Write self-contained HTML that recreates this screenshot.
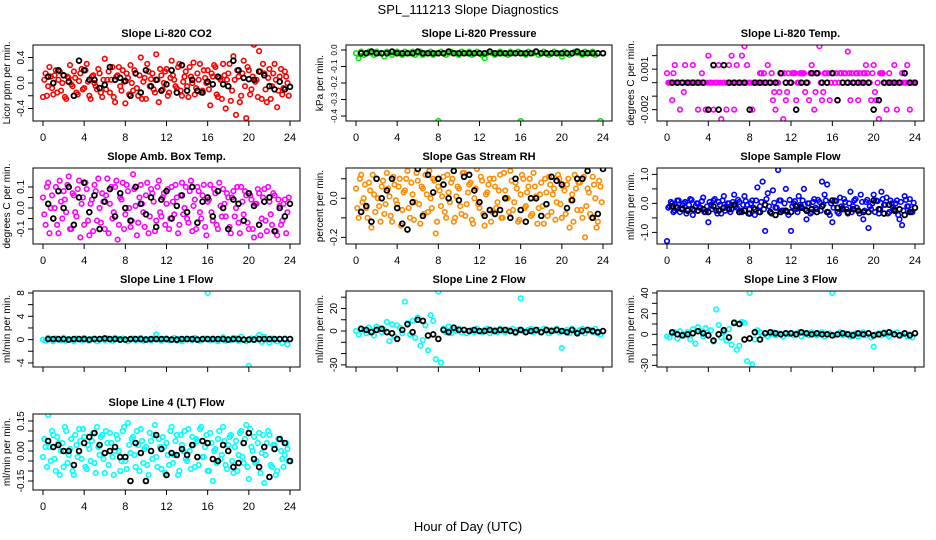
<!DOCTYPE html>
<html><head><meta charset="utf-8"><style>
html,body{margin:0;padding:0;background:#fff;}
svg{display:block;font-family:"Liberation Sans",Arial,sans-serif;}
</style></head><body>
<svg id="chart" width="936" height="540" viewBox="0 0 936 540" xmlns="http://www.w3.org/2000/svg">
<rect width="936" height="540" fill="#fff"/>
<text x="468" y="14" text-anchor="middle" font-size="13">SPL_111213  Slope Diagnostics</text>
<text x="468" y="531" text-anchor="middle" font-size="13">Hour of Day (UTC)</text>
</svg>
<script>
const hours=[0,0.25,0.5,0.75,1,1.25,1.5,1.75,2,2.25,2.5,2.75,3,3.25,3.5,3.75,4,4.25,4.5,4.75,5,5.25,5.5,5.75,6,6.25,6.5,6.75,7,7.25,7.5,7.75,8,8.25,8.5,8.75,9,9.25,9.5,9.75,10,10.25,10.5,10.75,11,11.25,11.5,11.75,12,12.25,12.5,12.75,13,13.25,13.5,13.75,14,14.25,14.5,14.75,15,15.25,15.5,15.75,16,16.25,16.5,16.75,17,17.25,17.5,17.75,18,18.25,18.5,18.75,19,19.25,19.5,19.75,20,20.25,20.5,20.75,21,21.25,21.5,21.75,22,22.25,22.5,22.75,23,23.25,23.5,23.75];
const hours2=[0.125,0.375,0.625,0.875,1.125,1.375,1.625,1.875,2.125,2.375,2.625,2.875,3.125,3.375,3.625,3.875,4.125,4.375,4.625,4.875,5.125,5.375,5.625,5.875,6.125,6.375,6.625,6.875,7.125,7.375,7.625,7.875,8.125,8.375,8.625,8.875,9.125,9.375,9.625,9.875,10.125,10.375,10.625,10.875,11.125,11.375,11.625,11.875,12.125,12.375,12.625,12.875,13.125,13.375,13.625,13.875,14.125,14.375,14.625,14.875,15.125,15.375,15.625,15.875,16.125,16.375,16.625,16.875,17.125,17.375,17.625,17.875,18.125,18.375,18.625,18.875,19.125,19.375,19.625,19.875,20.125,20.375,20.625,20.875,21.125,21.375,21.625,21.875,22.125,22.375,22.625,22.875,23.125,23.375,23.625,23.875];
const hoursB=[0.5,1,1.5,2,2.5,3,3.5,4,4.5,5,5.5,6,6.5,7,7.5,8,8.5,9,9.5,10,10.5,11,11.5,12,12.5,13,13.5,14,14.5,15,15.5,16,16.5,17,17.5,18,18.5,19,19.5,20,20.5,21,21.5,22,22.5,23,23.5,24];
const xTicks=[0,4,8,12,16,20,24];

const co2Vals=[-0.22,0.15,-0.05,0.1,-0.18,0.2,0.05,-0.12,0.12,-0.25,0.08,-0.02,0.18,-0.15,0.03,0.22,-0.08,0.3,-0.2,0.1,0.0,-0.1,0.15,-0.22,
0.38,0.05,-0.15,0.25,-0.3,0.12,-0.05,0.2,-0.32,0.08,0.28,-0.12,0.15,-0.2,0.4,0.02,-0.25,0.18,0.06,-0.1,0.45,-0.3,0.12,0.0,
0.22,-0.15,0.35,0.05,-0.08,0.3,-0.2,0.1,-0.05,0.25,0.0,-0.18,0.15,0.3,-0.12,0.08,0.2,-0.35,0.1,0.25,-0.22,0.05,0.3,-0.4,
0.15,-0.28,0.42,-0.5,0.1,-0.2,0.35,-0.55,0.2,-0.1,0.6,0.05,0.5,-0.25,0.15,-0.3,0.22,-0.05,0.3,-0.38,0.1,-0.18,0.18,0.0];
const co2Vals2=[0.05,-0.2,0.25,-0.08,0.12,-0.15,0.18,0.0,-0.22,0.1,0.28,-0.05,0.08,-0.18,0.15,-0.1,0.2,0.02,-0.25,0.12,-0.05,0.22,-0.15,0.05,
-0.1,0.18,0.05,-0.22,0.1,0.25,-0.12,0.02,0.15,-0.18,0.0,0.2,-0.08,0.12,-0.25,0.08,0.3,-0.05,0.15,-0.15,0.05,0.22,-0.1,0.18,
-0.2,0.08,0.12,-0.05,0.25,-0.12,0.02,0.18,-0.22,0.1,0.32,-0.08,0.05,-0.15,0.2,0.0,-0.1,0.15,0.28,-0.18,0.08,-0.25,0.12,0.05,
0.3,-0.12,0.05,0.2,-0.3,0.15,-0.05,0.25,-0.18,0.1,0.02,-0.22,0.18,0.3,-0.1,0.08,-0.25,0.15,0.05,-0.12,0.22,-0.08,0.1,-0.2];
const co2Black=[0.1,0.0,0.2,0.12,0.02,-0.2,0.35,0.2,0.05,0.05,-0.08,-0.03,0.25,0.05,0.08,0.03,-0.2,0.15,-0.15,0.2,-0.05,0.05,-0.12,-0.02,0.2,-0.15,0.28,-0.12,0.05,-0.12,-0.15,0.02,-0.02,0.1,-0.02,-0.05,0.35,0.2,0.08,0.06,0.05,0.18,0.12,-0.05,-0.1,0.02,-0.1,-0.06];

const presVals=[-0.02,-0.05,-0.01,-0.03,-0.02,-0.01,-0.02,-0.03,-0.01,-0.02,-0.02,-0.04,-0.01,-0.02,-0.03,-0.02,-0.01,-0.02,-0.03,-0.01,-0.02,-0.02,-0.01,-0.03,
-0.02,-0.01,-0.03,-0.02,-0.02,-0.01,-0.03,-0.02,-0.43,-0.01,-0.02,-0.03,-0.02,-0.01,-0.02,-0.02,-0.03,-0.01,-0.02,-0.02,-0.01,-0.03,-0.02,-0.01,
-0.02,-0.03,-0.05,-0.02,-0.01,-0.02,-0.03,-0.02,-0.01,-0.02,-0.02,-0.03,-0.01,-0.02,-0.02,-0.01,-0.43,-0.02,-0.03,-0.01,-0.02,-0.02,-0.01,-0.03,
-0.02,-0.01,-0.02,-0.03,-0.02,-0.01,-0.02,-0.02,-0.04,-0.01,-0.02,-0.03,-0.02,-0.01,-0.02,-0.02,-0.03,-0.01,-0.02,-0.02,-0.01,-0.03,-0.02,-0.43];
const presBlack=[-0.02,-0.02,-0.01,-0.02,-0.02,-0.02,-0.01,-0.02,-0.02,-0.02,-0.02,-0.01,-0.02,-0.02,-0.02,-0.02,-0.02,-0.01,-0.02,-0.02,-0.02,-0.02,-0.02,-0.02,-0.02,-0.01,-0.02,-0.02,-0.02,-0.02,-0.02,-0.02,-0.02,-0.02,-0.01,-0.02,-0.02,-0.02,-0.02,-0.02,-0.02,-0.02,-0.01,-0.02,-0.02,-0.02,-0.02,-0.02];

const tempVals=[0.0007,0,-0.0013,0.0013,0,-0.002,0,0.0013,0,0,0.0013,0,-0.002,0,0,-0.002,0.002,0,-0.002,0,0.0013,-0.0027,0,-0.002,
0.0013,0.002,-0.002,0.0013,0,0.002,0.0027,0.0013,0,-0.002,0,0,0.0007,0,0,0.0013,0,-0.0013,-0.002,0,0.0007,-0.0027,-0.0013,0.0007,
0,0.0007,-0.0013,0,0.0007,0.0007,0,-0.0013,0.0013,-0.002,0.0007,0.0027,-0.0013,0.0007,0,-0.0013,0.0007,0,-0.0013,0.0007,0,0.0007,0.0023,-0.0013,
0,0.0007,-0.0013,0,0.0007,0.0013,0,-0.0013,0.0013,-0.0013,-0.0027,0.0007,0,-0.002,0.0007,0,0.0013,-0.002,0,0.0007,0,0.0013,-0.002,0];
const tempVals2=[0,0,0.0007,0,0,0,-0.0007,0,0,0,0,0,0,0.0007,0,0,0,0,0,0,0,0,0,0,
0,0,0,0,0,0,0,0,0,0,0,0,0.0007,0.0007,0,0,0.0007,-0.0007,0,-0.0007,0.0007,0.0007,-0.0007,0,
0.0007,0.0007,0,0.0007,0.0007,-0.0007,0,0.0007,0.0007,-0.0007,0.0007,0,-0.0007,0.0007,0.0007,0,0.0007,0.0007,0,0.0007,0.0007,0,0.0007,0.0007,
0,0.0007,0.0007,0,0.0007,0.0007,0,0.0007,-0.0007,0,0.0007,0.0007,0,0,0,0,0,0,0,0,0,0,0,0];
const tempBlack=[0,0,0,0,0,0,0,-0.002,0.0013,-0.002,0.0013,0,0,0,0,-0.002,0,0,0,0,0,0.0007,0,0,-0.002,0,0,0.0007,0.0007,0,0,0.0007,-0.0013,0,0,0,0,0,0,-0.002,-0.0013,0,0,0,0,0.0007,0,0];

const ambVals=[0.05,-0.08,0.12,0.0,-0.05,0.1,-0.12,0.03,0.08,-0.02,0.15,-0.1,0.06,-0.04,0.13,0.02,-0.08,0.09,-0.13,0.04,0.11,-0.06,0.0,0.07,
-0.1,0.14,0.02,-0.05,0.1,-0.15,0.05,0.12,-0.03,0.08,-0.09,0.16,0.01,-0.07,0.11,-0.02,0.06,-0.12,0.09,0.03,-0.06,0.13,-0.04,0.07,
0.02,-0.1,0.1,-0.03,0.05,-0.08,0.12,0.0,-0.05,0.08,-0.11,0.04,0.1,-0.02,0.06,-0.09,0.03,0.11,-0.06,0.07,-0.1,0.01,0.09,-0.04,
0.05,-0.12,0.08,0.0,-0.07,0.1,-0.03,0.06,-0.1,0.04,-0.14,0.02,0.07,-0.05,0.09,-0.11,0.03,-0.08,0.06,-0.13,0.01,-0.06,0.04,-0.02];
const ambVals2=[-0.03,0.1,-0.12,0.06,0.0,-0.08,0.13,-0.05,0.04,0.11,-0.1,0.07,-0.02,0.09,-0.14,0.05,0.12,-0.06,0.02,-0.11,0.08,0.14,-0.07,0.03,
0.06,-0.12,0.1,-0.02,0.13,-0.08,0.04,-0.1,0.11,0.0,-0.06,0.09,-0.13,0.05,0.02,-0.09,0.12,-0.04,0.07,-0.11,0.1,-0.02,0.05,-0.08,
0.09,-0.05,0.03,0.11,-0.12,0.06,-0.03,0.1,-0.07,0.13,0.01,-0.1,0.08,-0.05,0.11,-0.13,0.04,-0.02,0.09,-0.08,0.12,-0.04,0.02,0.07,
-0.09,0.05,-0.04,0.1,-0.12,0.03,0.08,-0.07,0.06,-0.1,0.02,0.09,-0.13,0.05,-0.06,0.1,-0.03,0.07,-0.11,0.04,-0.08,0.02,-0.12,0.05];
const ambBlack=[0.02,-0.05,0.08,0.0,0.1,-0.08,0.05,0.12,-0.02,0.06,-0.1,0.03,0.09,-0.04,0.07,0.0,-0.06,0.1,0.02,-0.03,0.05,-0.09,0.04,0.08,
-0.05,0.01,0.06,-0.02,0.1,-0.07,0.03,0.05,-0.04,0.08,0.0,-0.1,0.04,0.02,-0.06,0.07,0.01,-0.08,0.03,0.05,-0.11,0.0,-0.04,0.02];

const rhVals=[0.05,-0.1,0.12,0.0,-0.05,0.08,-0.15,0.02,0.1,-0.04,0.06,-0.08,0.13,0.01,-0.12,0.07,-0.03,0.1,-0.06,0.04,0.14,-0.1,0.02,-0.02,
0.09,-0.13,0.05,0.12,-0.07,0.0,0.1,-0.18,0.06,-0.04,0.11,-0.1,0.03,0.08,-0.12,0.01,0.05,-0.08,0.13,-0.03,0.07,-0.11,0.0,0.15,
-0.05,0.09,-0.14,0.03,0.1,-0.07,0.06,-0.02,0.12,-0.1,0.04,0.0,0.14,-0.06,0.08,-0.12,0.02,0.1,-0.04,0.06,-0.09,0.13,0.01,-0.05,
0.08,-0.13,0.03,0.11,-0.07,0.05,-0.02,0.1,-0.1,0.04,0.07,-0.15,0.02,0.12,-0.06,0.08,-0.1,-0.2,0.05,-0.08,0.11,0.0,-0.12,0.06];
const rhVals2=[-0.05,0.1,-0.02,0.07,-0.1,0.04,0.12,-0.07,0.0,-0.12,0.09,-0.03,0.05,-0.09,0.11,-0.01,0.06,-0.14,0.03,0.1,-0.05,0.08,-0.11,0.13,
-0.03,0.06,-0.08,0.02,0.14,-0.05,0.09,-0.12,0.04,0.01,-0.07,0.12,-0.02,0.1,-0.1,0.06,-0.04,0.13,-0.09,0.03,0.08,-0.13,0.05,-0.03,
0.11,-0.08,0.02,0.07,-0.12,0.1,-0.05,0.04,-0.1,0.13,0.0,-0.07,0.09,-0.02,0.05,-0.11,0.12,-0.05,0.03,0.1,-0.08,0.06,-0.13,0.02,
-0.04,0.1,-0.09,0.07,0.02,-0.11,0.12,-0.03,0.06,-0.08,0.1,-0.01,-0.12,0.05,0.08,-0.06,0.11,-0.04,0.03,-0.1,0.07,-0.15,0.09,-0.02];
const rhBlack=[-0.07,-0.04,-0.12,0.1,0.0,0.04,0.1,-0.05,-0.13,-0.16,-0.02,0.15,-0.09,0.12,0.03,0.1,0.07,0.0,0.14,-0.01,0.11,0.12,0.04,-0.02,
-0.09,-0.06,-0.08,-0.06,0.0,-0.1,0.1,-0.06,-0.12,0.0,0.0,-0.09,-0.03,0.11,0.09,0.07,-0.05,-0.01,0.1,0.1,0.14,-0.1,-0.08,0.15];

const flowVals=[-1.3,-0.1,0.0,-0.25,0.1,-0.3,-0.05,0.05,-0.2,0.15,-0.4,-0.1,0.0,-0.15,0.2,-0.3,-0.65,-0.05,0.1,-0.25,0.05,-0.35,0.25,-0.1,
0.0,-0.2,0.3,-0.15,0.05,-0.3,0.25,-0.05,-0.2,0.1,-0.4,0.55,-0.1,0.75,-0.95,0.35,-0.3,0.45,-0.15,1.15,0.1,-0.25,0.5,-0.4,
-0.95,0.0,-0.2,0.25,-0.1,0.5,-0.55,0.0,-0.3,0.15,-0.2,0.05,0.75,0.3,0.65,-0.4,-0.65,0.1,-0.3,0.2,-0.15,0.05,-0.35,0.4,
-0.1,0.15,-0.25,0.3,-0.55,0.05,-0.85,-0.2,0.3,0.1,-0.35,0.4,-0.05,0.2,-0.3,0.0,-0.2,0.1,-0.55,-0.75,0.25,-0.1,0.15,-0.3];
const flowVals2=[-0.15,0.05,-0.3,-0.1,0.1,-0.2,0.0,-0.35,-0.05,0.12,-0.25,0.0,-0.15,0.08,-0.3,-0.1,0.05,-0.2,0.15,-0.35,-0.05,0.1,-0.25,0.0,
-0.3,0.05,-0.1,0.12,-0.25,-0.05,0.08,-0.35,0.0,-0.15,0.1,-0.3,0.05,-0.2,0.15,-0.1,-0.35,0.02,-0.15,0.1,-0.25,0.0,-0.3,0.12,
-0.1,0.08,-0.3,-0.05,0.1,-0.2,0.0,-0.35,0.05,-0.15,0.12,-0.25,-0.05,0.1,-0.3,0.0,-0.15,0.08,-0.35,-0.1,0.15,-0.2,0.0,-0.3,
0.1,-0.15,-0.35,0.05,-0.25,0.12,-0.1,0.0,-0.3,0.08,-0.2,0.15,-0.05,-0.35,0.1,-0.15,0.0,-0.4,0.05,-0.25,0.12,-0.1,-0.3,0.02];
const flowBlack=[-0.1,-0.15,-0.2,-0.25,-0.2,-0.25,-0.2,-0.3,-0.1,-0.25,-0.15,-0.2,-0.05,-0.3,-0.25,-0.35,-0.2,-0.3,-0.05,-0.3,-0.4,-0.3,-0.25,-0.3,-0.1,-0.15,-0.25,-0.2,-0.3,-0.1,-0.3,0.1,-0.15,-0.2,-0.3,-0.2,-0.25,-0.3,-0.3,0.1,-0.2,-0.35,-0.05,-0.25,-0.2,-0.4,-0.3,-0.15];

const line1Vals=[0,-0.2,0.3,0.1,-0.3,0.2,0,-0.1,0.3,-0.2,0.1,0,-0.3,0.2,0.1,-0.1,0.3,0,-0.2,0.1,0.2,-0.3,0,0.1,
-0.1,0.2,0,-0.2,0.3,0.1,-0.1,0.2,0,-0.3,0.1,0.2,-0.1,0,0.3,-0.2,0.1,0,-0.1,0.2,0.9,0,-0.2,0.1,
0.2,-0.1,0,0.3,-0.2,0.1,-0.3,0,0.2,0.1,-0.1,0.3,0,-0.2,0.1,0.2,8.0,-0.1,0.2,0,-0.3,0.1,0.4,-0.2,
0.1,-0.1,0.3,0.2,-0.2,0.5,0,-0.3,-4.5,0.2,-0.1,0.3,0.8,-0.4,0.5,0.1,-0.5,0.2,0,-0.3,0.1,-0.6,0.2,-0.8];
const line1Black=[0.1,0.1,0.1,0.1,0.0,0.1,0.1,0.1,0.0,0.1,0.1,0.2,0.1,0.1,0.0,0.0,0.1,0.1,0.1,0.0,0.1,0.1,0.1,0.1,0.0,0.0,0.1,0.1,0.1,0.0,0.1,0.1,0.1,0.1,0.1,0.0,0.1,0.1,0.0,0.0,0.0,0.1,0.1,0.1,0.1,0.1,0.1,0.1];

const line2Vals=[0,-3,2,1,-2,3,0,-4,4,2,-1,1,8,-9,6,-5,5,3,-2,26,7,-3,9,-6,
12,-13,-8,5,-17,14,9,-25,35,-28,2,-1,4,-2,1,0,2,-1,1,-2,0,1,-1,2,
0,-1,1,2,-2,0,1,-1,2,0,-1,1,0,2,-2,1,29,0,-1,1,2,-1,0,1,
-1,2,0,-2,1,0,2,-1,-15,0,1,-2,2,0,-1,1,2,-2,0,1,-1,2,-2,-3];
const line2Black=[2,1,-1,1,2,-1,-2,-7,1,6,-1,10,9,-4,-3,-7,1,-1,3,1,1,0,1,0,0,1,0,1,1,0,-1,1,-1,0,1,-1,1,0,1,0,-1,1,-2,0,1,0,-1,0];

const line3Vals=[-2,-3,1,2,-4,3,0,-1,2,-5,5,-9,7,3,-2,6,-1,4,-7,24,9,-3,2,-6,
5,-10,12,-15,-11,12,11,-26,40,-29,-5,4,2,-1,1,-2,0,2,-1,1,0,-2,1,0,
1,-1,0,2,-2,1,0,-1,2,0,-1,1,2,-2,0,1,40,-1,0,2,-1,1,0,-2,
0,1,-2,0,2,-1,1,-3,-12,0,1,-1,2,0,-2,1,0,2,-1,0,1,-2,0,-3];
const line3Black=[2,0,-1,0,1,3,1,-1,-6,0,4,-3,11,10,-5,-4,2,-5,1,2,1,0,1,1,0,2,1,0,1,0,0,-1,0,1,0,-1,1,0,1,-1,0,1,2,0,-1,1,-1,1];

const line4Vals=[-0.03,0.02,0.18,-0.05,0.08,-0.1,0.04,0.0,-0.08,0.1,-0.02,0.06,-0.12,0.03,0.11,-0.04,0.07,-0.09,0.01,0.05,-0.06,0.12,-0.02,0.08,
-0.11,0.04,0.09,-0.03,0.0,0.06,-0.1,0.1,-0.05,0.14,-0.01,0.07,-0.08,0.03,0.11,-0.06,0.02,-0.12,0.05,0.08,-0.03,0.06,-0.09,0.02,
0.04,-0.07,0.12,-0.02,0.08,-0.1,0.03,0.1,-0.05,0.0,0.07,-0.08,0.05,0.11,-0.03,0.02,-0.1,0.09,-0.15,0.01,0.06,-0.04,0.12,-0.07,
0.03,0.08,-0.11,0.05,-0.02,0.1,-0.06,0.13,-0.14,0.02,0.07,-0.05,0.09,-0.01,-0.16,0.04,0.08,-0.08,0.03,-0.1,0.06,-0.04,-0.02,0.01];
const line4Vals2=[0.06,-0.08,0.02,0.1,-0.04,0.07,-0.12,0.04,0.12,-0.06,0.01,-0.1,0.08,-0.03,0.05,0.11,-0.08,0.03,-0.05,0.09,-0.11,0.02,0.07,-0.04,
0.1,-0.07,0.04,-0.12,0.08,0.0,-0.05,0.12,-0.09,0.03,0.06,-0.02,0.1,-0.1,0.05,0.01,-0.07,0.09,-0.04,0.13,-0.08,0.02,0.07,-0.11,
-0.02,0.1,-0.06,0.05,-0.12,0.08,0.0,-0.04,0.11,-0.09,0.03,0.06,-0.07,0.12,-0.03,0.08,-0.1,0.04,0.0,-0.06,0.1,-0.02,0.05,-0.09,
0.07,-0.05,0.02,-0.1,0.09,-0.03,0.06,-0.08,0.11,0.0,-0.06,0.04,-0.11,0.08,-0.02,0.1,-0.07,0.03,-0.12,0.06,0.0,-0.08,0.04,-0.05];
const line4Black=[0.05,0.02,0.03,0.0,0.0,-0.07,0.0,0.04,0.07,0.09,0.03,-0.01,0.0,0.02,-0.03,-0.03,-0.15,0.04,-0.01,-0.15,0.0,0.08,0.01,-0.12,
-0.01,-0.02,0.01,-0.02,0.03,-0.03,0.05,0.04,-0.04,-0.05,0.03,0.0,-0.08,-0.06,0.04,0.09,-0.04,-0.08,0.02,-0.13,0.01,0.06,0.04,-0.05];

const panels=[
 {name:'co2',title:'Slope Li-820 CO2',ylab:'Licor ppm per min.',col:0,row:0,ymax:0.596,ymin:-0.596,vals:co2Vals,vals2:co2Vals2,blk:co2Black,color:'#ff0000',
  ticks:[-0.4,-0.2,0,0.2,0.4],labels:['-0.4','','0.0','','0.4'],xl:true,tf:10},
 {name:'pressure',title:'Slope Li-820 Pressure',ylab:'kPa per min.',col:1,row:0,ymax:0.03,ymin:-0.43,vals:presVals,vals2:null,blk:presBlack,color:'#00ee00',
  ticks:[0,-0.1,-0.2,-0.3,-0.4],labels:['0.0','-0.1','-0.2','-0.3','-0.4'],xl:true,tf:8},
 {name:'temp',title:'Slope Li-820 Temp.',ylab:'degrees C per min.',col:2,row:0,ymax:0.00279,ymin:-0.00284,vals:tempVals,vals2:tempVals2,blk:tempBlack,color:'#ff00ff',
  ticks:[-0.002,-0.001,0,0.001,0.002],labels:['-0.002','','','0.001',''],xl:true,tf:10},
 {name:'amb-box',title:'Slope Amb. Box Temp.',ylab:'degrees C per min.',col:0,row:1,ymax:0.19,ymin:-0.171,vals:ambVals,vals2:ambVals2,blk:ambBlack,color:'#ff00ff',
  ticks:[-0.1,-0.05,0,0.05,0.1],labels:['-0.1','','0.0','','0.1'],xl:true,tf:10},
 {name:'rh',title:'Slope Gas Stream RH',ylab:'percent per min.',col:1,row:1,ymax:0.155,ymin:-0.234,vals:rhVals,vals2:rhVals2,blk:rhBlack,color:'#ff8c00',
  ticks:[-0.2,-0.1,0,0.1],labels:['-0.2','','0.0',''],xl:true,tf:10},
 {name:'sample-flow',title:'Slope Sample Flow',ylab:'ml/min per min.',col:2,row:1,ymax:1.22,ymin:-1.40,vals:flowVals,vals2:flowVals2,blk:flowBlack,color:'#0000ff',
  ticks:[-1,-0.5,0,0.5,1],labels:['-1.0','','0.0','','1.0'],xl:true,tf:10},
 {name:'line1',title:'Slope Line 1 Flow',ylab:'ml/min per min.',col:0,row:2,ymax:8.34,ymin:-4.7,vals:line1Vals,vals2:null,blk:line1Black,color:'#00ffff',
  ticks:[-4,-2,0,2,4,6,8],labels:['-4','','0','','4','','8'],xl:false,tf:10},
 {name:'line2',title:'Slope Line 2 Flow',ylab:'ml/min per min.',col:1,row:2,ymax:35.5,ymin:-31.9,vals:line2Vals,vals2:null,blk:line2Black,color:'#00ffff',
  ticks:[-30,-20,-10,0,10,20,30],labels:['-30','','','0','','20',''],xl:false,tf:10},
 {name:'line3',title:'Slope Line 3 Flow',ylab:'ml/min per min.',col:2,row:2,ymax:41.9,ymin:-31.6,vals:line3Vals,vals2:null,blk:line3Black,color:'#00ffff',
  ticks:[-30,-20,-10,0,10,20,30,40],labels:['-30','','','0','','20','','40'],xl:false,tf:10},
 {name:'line4',title:'Slope Line 4 (LT) Flow',ylab:'ml/min per min.',col:0,row:3,ymax:0.185,ymin:-0.195,vals:line4Vals,vals2:line4Vals2,blk:line4Black,color:'#00ffff',
  ticks:[-0.15,-0.1,-0.05,0,0.05,0.1,0.15],labels:['-0.15','','','0.00','','','0.15'],xl:true,tf:10}
];

const colBox=[[33,300],[346,612],[657,924]];
const colX=[[43,290],[356,603],[667,915]];
const rowBox=[[45,121],[168,244],[291,367],[414,490]];
const NS='http://www.w3.org/2000/svg';
const svg=document.getElementById('chart');
function mk(tag,attrs,parent){const e=document.createElementNS(NS,tag);for(const k in attrs)e.setAttribute(k,attrs[k]);(parent||svg).appendChild(e);return e;}

panels.forEach(p=>{
  const [L,R]=colBox[p.col],[T,B]=rowBox[p.row],[x0,x24]=colX[p.col];
  const xs=h=>x0+(x24-x0)*h/24;
  const ys=v=>T+(p.ymax-v)/(p.ymax-p.ymin)*(B-T);
  const g=mk('g',{});
  
  
  const t=mk('text',{x:(L+R)/2,y:T-8,'text-anchor':'middle','font-size':'11','font-weight':'bold'},g);
  
  
  t.textContent=p.title;
  const yl=mk('text',{x:0,y:0,transform:`translate(${L-23},${(T+B)/2}) rotate(-90)`,'text-anchor':'middle','font-size':'10'},g);
  
  
  yl.textContent=p.ylab;
  p.ticks.forEach((tv,i)=>{
    const y=ys(tv);
    const tk=mk('line',{x1:L-5,x2:L,y1:y,y2:y,stroke:'#000','stroke-width':1},g);
    
    
    if(p.labels[i]){
      const lb=mk('text',{x:0,y:0,transform:`translate(${L-9},${y}) rotate(-90)`,'text-anchor':'middle','font-size':p.tf},g);
      
      
      lb.textContent=p.labels[i];
    }
  });
  xTicks.forEach(h=>{
    const x=xs(h);
    const tk=mk('line',{x1:x,x2:x,y1:B,y2:B+5,stroke:'#000','stroke-width':1},g);
    
    
    if(p.xl){
      const lb=mk('text',{x:x,y:B+20,'text-anchor':'middle','font-size':'11'},g);
      
      
      lb.textContent=h;
    }
  });
  const clip='clip-'+p.name;
  const cp=mk('clipPath',{id:clip},g);mk('rect',{x:L,y:T,width:R-L,height:B-T},cp);
  const pts=mk('g',{'clip-path':`url(#${clip})`},g);
  
  
  const n=Math.min(hours.length,p.vals.length);
  for(let i=0;i<n;i++){
    const c=mk('circle',{cx:xs(hours[i]),cy:ys(p.vals[i]),r:2.3,fill:'none',stroke:p.color,'stroke-width':1.6},pts);
    
    
  }
  if(p.vals2){
    const n2=Math.min(hours2.length,p.vals2.length);
    for(let i=0;i<n2;i++){
      const c=mk('circle',{cx:xs(hours2[i]),cy:ys(p.vals2[i]),r:2.3,fill:'none',stroke:p.color,'stroke-width':1.6},pts);
      
      
    }
  }
  const m=Math.min(hoursB.length,p.blk.length);
  for(let i=0;i<m;i++){
    const c=mk('circle',{cx:xs(hoursB[i]),cy:ys(p.blk[i]),r:2.4,fill:'none',stroke:'#000','stroke-width':1.8},pts);
    
    
  }
  const box=mk('rect',{x:L,y:T,width:R-L,height:B-T,fill:'none',stroke:'#000','stroke-width':1},g);
  
  
});
</script>
</body></html>
